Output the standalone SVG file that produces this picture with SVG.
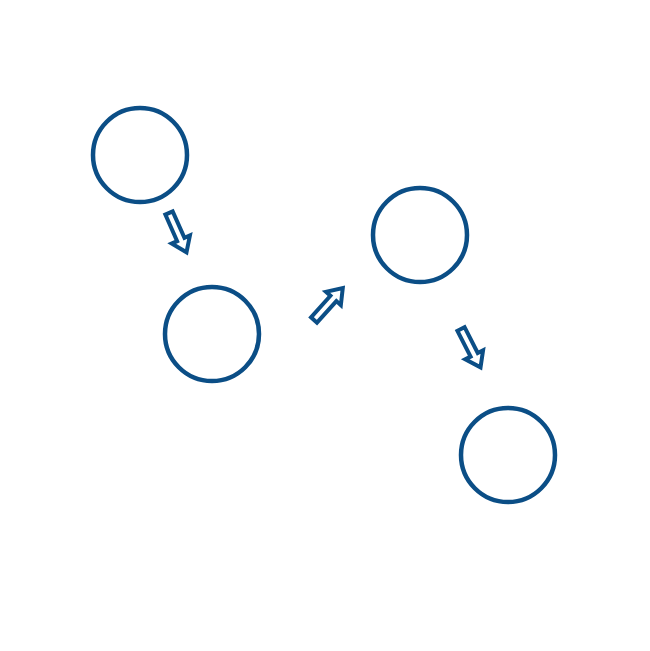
<svg xmlns="http://www.w3.org/2000/svg" width="650" height="651" viewBox="0 0 650 651">
<defs>
<style>
.node{fill:none;stroke:#0b4e86;stroke-width:4.5}
.arr{fill:#fff;stroke:#0b4e86;stroke-width:4;stroke-linejoin:miter}
</style>
<path id="ar" d="M0,-4 L29,-4 L29,-10 L43,0 L29,10 L29,4 L0,4 Z"/>
</defs>
<rect width="650" height="651" fill="#fff"/>
<g id="node1"><circle class="node" cx="140" cy="155" r="47"/></g>
<g id="node2"><circle class="node" cx="212" cy="334" r="47"/></g>
<g id="node3"><circle class="node" cx="420" cy="235" r="47"/></g>
<g id="node4"><circle class="node" cx="508" cy="455" r="47"/></g>
<g id="connectors">
<use href="#ar" class="arr" transform="translate(169,213) rotate(66)"/>
<use href="#ar" class="arr" transform="translate(314,320) rotate(-48)"/>
<use href="#ar" class="arr" transform="translate(461,329) rotate(63)"/>
</g>
</svg>
